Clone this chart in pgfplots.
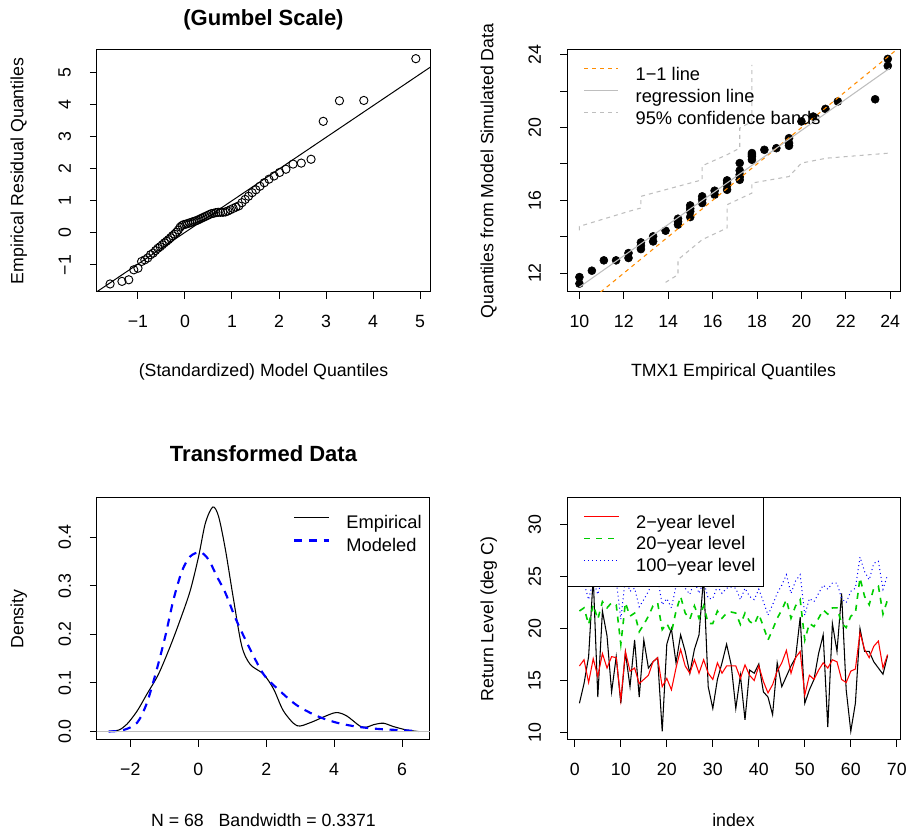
\documentclass[border=0pt]{standalone}
\usepackage{fontspec}
\setmainfont{Liberation Sans}
\usepackage{pgfplots}
\usepackage{pgfplotstable}
\pgfplotsset{compat=1.18}
\definecolor{rgreen}{HTML}{00CD00}
\definecolor{rorange}{HTML}{FF8C00}
\definecolor{rgray}{HTML}{BEBEBE}

\pgfplotstableread{
i obs r2 r20 r100
1 12.8 16.4 21.7 24.1
2 14.7 17.0 22.0 24.4
3 17.3 14.8 20.4 22.8
4 25.0 17.1 22.3 24.7
5 13.4 15.4 20.9 23.3
6 21.7 17.6 22.6 25.0
7 19.3 16.2 22.0 24.4
8 13.9 17.3 22.5 24.9
9 17.3 17.2 22.3 24.7
10 12.8 13.1 18.5 20.9
11 17.7 17.8 22.5 24.9
12 14.4 15.9 21.2 23.6
13 18.9 16.2 21.5 23.9
14 13.4 14.7 19.7 22.1
15 18.9 15.1 20.4 22.8
16 16.2 15.5 21.2 23.6
17 16.8 16.8 22.2 24.6
18 17.2 17.2 22.5 24.9
19 10.1 14.4 19.9 22.3
20 18.5 15.2 20.5 22.9
21 20.0 14.1 19.6 22.0
22 16.7 16.2 21.7 24.1
23 19.4 18.0 23.1 25.5
24 17.8 16.4 21.5 23.9
25 15.7 15.7 20.9 23.3
26 18.0 17.0 22.2 24.6
27 19.4 15.7 21.0 23.4
28 25.0 17.0 22.2 24.6
29 14.4 15.7 20.5 22.9
30 12.3 15.1 20.5 22.9
31 15.1 16.7 21.7 24.1
32 16.7 15.7 21.0 23.4
33 18.5 16.4 21.5 23.9
34 16.5 16.4 21.6 24.0
35 12.3 16.4 21.5 23.9
36 15.5 15.2 20.4 22.8
37 11.2 16.5 21.5 23.9
38 16.0 15.5 20.7 23.1
39 15.7 15.0 20.4 22.8
40 16.6 16.4 21.4 23.8
41 13.9 14.9 20.2 22.6
42 13.4 13.8 18.9 21.3
43 11.7 14.6 19.9 22.3
44 16.7 15.9 21.0 23.4
45 14.4 16.7 21.8 24.2
46 15.4 17.9 22.8 25.2
47 16.4 15.7 21.0 23.4
48 17.2 17.2 22.2 24.6
49 21.1 17.8 22.8 25.2
50 12.8 13.6 18.9 21.3
51 14.1 15.5 20.5 22.9
52 15.1 15.1 20.2 22.6
53 17.6 16.0 21.0 23.4
54 19.4 16.7 21.8 24.2
55 10.5 16.2 21.4 23.8
56 20.5 17.0 22.0 24.4
57 17.8 16.8 22.0 24.4
58 23.4 15.1 20.5 22.9
59 14.1 14.8 20.1 22.5
60 10.1 15.9 21.2 23.6
61 12.8 16.1 21.5 23.9
62 20.0 19.6 24.9 26.9
63 17.8 18.0 23.1 25.5
64 17.8 17.2 22.3 24.7
65 16.8 18.3 23.9 26.3
66 16.2 18.8 24.1 26.5
67 15.6 16.2 21.4 23.8
68 17.4 17.5 22.8 25.2
}\rltable

\pgfplotsset{
  rbase/.style={
    scale only axis, width=249.75pt, height=181.5pt,
    axis line style={line width=0.75pt},
    tick align=outside, major tick length=5.25pt,
    tick pos=left,
    tick style={line width=0.75pt, black},
    /pgf/number format/assume math mode=true,
    xticklabel style={anchor=center},
    xticklabel shift=17pt,
    yticklabel style={rotate=90, anchor=center},
    yticklabel shift=19pt,
    xlabel style={at={(axis description cs:0.5,-0.33)}, anchor=center},
    ylabel style={at={(axis description cs:-0.235,0.5)}, anchor=center, rotate=0},
    title style={anchor=center, font=\fontsize{16.5}{19}\selectfont\bfseries},
    legend cell align=left,
    legend style={font=\fontsize{13.7}{16}\selectfont, row sep=3.7pt, draw=none, fill=none,
      inner sep=0pt, anchor=north west,
      nodes={inner sep=0pt, text height=9.9pt, text depth=2.9pt}},
    legend image code/.code={\draw[##1] (0pt,4.9pt) -- (25.8pt,4.9pt); \path (38.3pt,0pt);},
  }
}

\begin{document}
\begin{tikzpicture}[font=\fontsize{13.3}{16}\selectfont]
\path[use as bounding box] (0,0) rectangle (680.25pt,622.5pt);

% Panel 1
\begin{axis}[rbase, at={(72.75pt,403.5pt)}, anchor=south west,
  xmin=-1.87, xmax=5.21, ymin=-1.84, ymax=5.69,
  xtick={-1,0,1,2,3,4,5}, xticklabels={−1,0,1,2,3,4,5},
  ytick={-1,0,1,2,3,4,5}, yticklabels={−1,0,1,2,3,4,5},
  xlabel={(Standardized) Model Quantiles},
  ylabel={Empirical Residual Quantiles},
  title={(Gumbel Scale)}, title style={at={(axis description cs:0.5,1.093)}},
]
\addplot[black, line width=0.75pt] coordinates {(-1.87,-1.83) (5.21,5.15)};
\addplot[only marks, mark=o, mark size=3.1pt, mark options={line width=0.7pt, black}] coordinates {
(-1.592,-1.59) (-1.339,-1.51) (-1.195,-1.46) (-1.088,-1.15) (-0.999,-1.10)
(-0.922,-0.89) (-0.853,-0.84) (-0.791,-0.78) (-0.732,-0.68) (-0.677,-0.63)
(-0.625,-0.55) (-0.575,-0.48) (-0.527,-0.43) (-0.481,-0.37) (-0.435,-0.31)
(-0.391,-0.26) (-0.348,-0.21) (-0.305,-0.15) (-0.264,-0.09) (-0.222,-0.04)
(-0.182,0.02) (-0.141,0.09) (-0.101,0.18) (-0.061,0.23) (-0.021,0.26)
(0.019,0.27) (0.059,0.29) (0.100,0.31) (0.140,0.33) (0.180,0.35)
(0.221,0.37) (0.262,0.39) (0.303,0.42) (0.345,0.45) (0.388,0.48)
(0.431,0.51) (0.475,0.54) (0.519,0.57) (0.565,0.60) (0.611,0.61)
(0.658,0.63) (0.706,0.64) (0.755,0.64) (0.806,0.64) (0.858,0.65)
(0.912,0.68) (0.967,0.72) (1.025,0.76) (1.084,0.80) (1.146,0.84)
(1.212,0.94) (1.280,1.04) (1.352,1.14) (1.428,1.25) (1.508,1.34)
(1.594,1.45) (1.686,1.56) (1.786,1.67) (1.894,1.77) (2.013,1.88)
(2.147,1.98) (2.298,2.14) (2.473,2.17) (2.681,2.29) (2.940,3.47)
(3.285,4.11) (3.803,4.12) (4.909,5.42)};
\end{axis}

% Panel 2, points first (so that the legend text lies above them)
\begin{axis}[rbase, hide axis, at={(425.25pt,403.5pt)}, anchor=south west,
  xmin=9.44, xmax=24.44, ymin=10.96, ymax=24.27]
\addplot[only marks, mark=*, mark size=3pt, black] coordinates {
(10.0,11.78) (10.0,11.42) (10.56,12.13) (11.10,12.70) (11.65,12.70) (12.21,13.10) (12.21,12.83)
(12.77,13.69) (12.77,13.32) (12.77,13.50) (13.32,14.02) (13.32,13.74) (13.88,14.33)
(14.44,14.99) (14.44,14.66) (14.44,14.82) (14.99,15.72) (14.99,15.39) (14.99,15.08) (14.99,15.55)
(15.53,16.22) (15.53,15.85) (15.53,16.05) (16.09,16.53) (16.09,16.31)
(16.65,17.10) (16.65,16.82) (16.65,16.58) (16.65,16.95)
(17.22,18.05) (17.22,17.64) (17.22,17.41) (17.22,17.13) (17.22,17.30)
(17.77,18.60) (17.77,18.41) (17.77,18.23) (17.77,18.50)
(18.33,18.78) (18.87,18.87) (19.44,19.42) (19.44,19.00) (19.44,19.15)
(20.0,20.34) (20.53,20.61) (21.08,21.03) (21.64,21.44) (23.32,21.56) (23.89,23.78) (23.89,23.40)};
\end{axis}
\begin{axis}[rbase, at={(425.25pt,403.5pt)}, anchor=south west,
  xmin=9.44, xmax=24.44, ymin=10.96, ymax=24.27,
  xtick={10,12,...,24},
  ytick={12,14,...,24}, yticklabels={12,,16,,20,,24},
  xlabel={TMX1 Empirical Quantiles},
  ylabel={Quantiles from Model Simulated Data},
  legend style={at={(axis description cs:0,1)}, xshift=12.2pt, yshift=-12.5pt},
]
\addplot[rorange, line width=0.8pt, dash pattern=on 3pt off 3pt] coordinates {(9,9) (25,25)};
\addlegendentry{1−1 line}
\addplot[rgray, line width=0.8pt] coordinates {(10,11.23) (23.98,23.27)};
\addlegendentry{regression line}
\addplot[rgray, line width=0.8pt, dash pattern=on 3pt off 3pt] coordinates {
(10,14.35) (10,14.57) (12.21,15.39) (12.77,15.58) (12.77,16.22) (15.53,17.13) (15.53,17.90)
(16.65,18.51) (17.22,18.87) (17.22,19.97) (17.77,20.34) (17.77,23.45)};
\addlegendentry{95\% confidence bands}
\addplot[rgray, line width=0.8pt, dash pattern=on 3pt off 3pt, forget plot] coordinates {
(13.88,11.49) (14.44,11.91) (14.44,12.74) (15.53,13.84) (16.65,14.48) (16.65,15.76)
(17.77,16.40) (17.77,16.95) (19.44,17.31) (20.0,18.05) (21.13,18.32) (23.98,18.60)};
\end{axis}

% Panel 3
\begin{axis}[rbase, at={(72.75pt,67.5pt)}, anchor=south west,
  xmin=-2.98, xmax=6.82, ymin=-0.0175, ymax=0.4805,
  xtick={-2,0,2,4,6}, xticklabels={−2,0,2,4,6},
  ytick={0,0.1,0.2,0.3,0.4}, yticklabels={0.0,0.1,0.2,0.3,0.4},
  xlabel={N = 68\ \ \ Bandwidth = 0.3371},
  ylabel={Density},
  title={Transformed Data}, title style={at={(axis description cs:0.5,1.151)}},
  legend style={at={(axis description cs:0,1)}, xshift=147pt, yshift=-13pt, row sep=4.4pt},
]
\addplot[black, line width=0.8pt, smooth] coordinates {
(-2.64,0) (-2.34,0.003) (-2.10,0.015) (-1.80,0.042) (-1.51,0.077) (-1.17,0.118) (-0.82,0.176)
(-0.53,0.230) (-0.24,0.289) (0.01,0.360) (0.21,0.429) (0.43,0.462) (0.60,0.442) (0.80,0.374)
(1.04,0.271) (1.28,0.176) (1.53,0.138) (1.92,0.118) (2.22,0.087) (2.51,0.042) (2.90,0.012)
(3.29,0.018) (3.69,0.030) (4.06,0.039) (4.37,0.032) (4.76,0.011) (4.96,0.009) (5.16,0.014) (5.45,0.017)
(5.75,0.010) (6.14,0.003) (6.48,0)};
\addlegendentry{Empirical}
\addplot[blue, line width=1.6pt, dash pattern=on 6pt off 5pt, smooth] coordinates {
(-2.64,0) (-2.20,0.003) (-1.80,0.018) (-1.51,0.059) (-1.22,0.128) (-0.97,0.196) (-0.73,0.271)
(-0.48,0.330) (-0.24,0.360) (0.06,0.369) (0.30,0.354) (0.55,0.319) (0.80,0.285) (1.09,0.234)
(1.43,0.183) (1.92,0.118) (2.41,0.083) (2.90,0.054) (3.49,0.032) (4.08,0.018) (4.67,0.010)
(5.35,0.005) (6.48,0.001)};
\addlegendentry{Modeled}
\addplot[rgray, line width=0.8pt, forget plot] coordinates {(-3,0) (7,0)};
\end{axis}

% Panel 4
\begin{axis}[rbase, at={(425.25pt,67.5pt)}, anchor=south west,
  xmin=-1.7, xmax=70.7, ymin=9.26, ymax=32.6,
  xtick={0,10,...,70}, ytick={10,15,...,30},
  xlabel={index},
  ylabel={Return Level (deg C)},
  legend style={at={(axis description cs:0,1)}, xshift=12.2pt, yshift=-12.5pt, row sep=3.45pt},
]
\addplot[black, line width=0.8pt] table[x=i, y=obs] {\rltable};
\addplot[red, line width=0.8pt] table[x=i, y=r2] {\rltable};
\addplot[rgreen, line width=1.2pt, dash pattern=on 4.5pt off 4.5pt] table[x=i, y=r20] {\rltable};
\addplot[blue, line width=0.75pt, dash pattern=on 0.75pt off 2.25pt] table[x=i, y=r100] {\rltable};
\draw[line width=0.75pt, fill=white] (rel axis cs:0,1) rectangle ++(147.2pt,-66.3pt);
\legend{,2−year level,20−year level,100−year level}
\end{axis}
\end{tikzpicture}
\end{document}
